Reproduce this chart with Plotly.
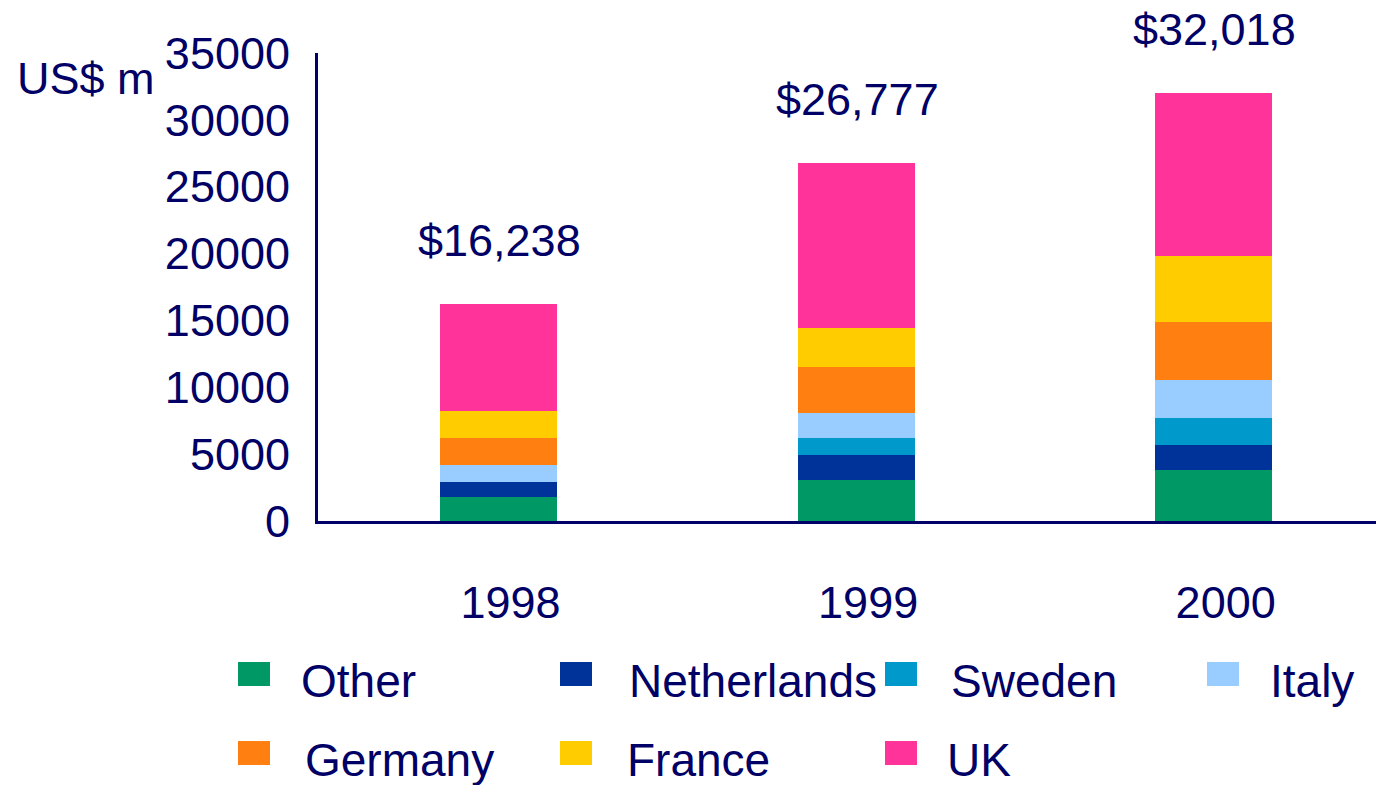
import plotly.graph_objects as go

years = ["1998", "1999", "2000"]
series_names = ["Other", "Netherlands", "Sweden", "Italy", "Germany", "France", "UK"]
other = [1830, 3100, 3780]
netherlands = [1120, 1870, 1870]
sweden = [0, 1270, 2090]
italy = [1220, 1820, 2770]
germany = [2070, 3490, 4340]
france = [2020, 2920, 4940]
uk = [7978, 12307, 12228]
totals = [16238, 26777, 32018]
total_labels = ["$16,238", "$26,777", "$32,018"]
y_ticks = [0, 5000, 10000, 15000, 20000, 25000, 30000, 35000]
y_tick_labels = ["0", "5000", "10000", "15000", "20000", "25000", "30000", "35000"]

colors = ["#009966", "#003399", "#0099CC", "#99CCFF", "#FF7F11", "#FFCC00", "#FF3399"]
values = [other, netherlands, sweden, italy, germany, france, uk]

NAVY = "#000066"
FONT = "Liberation Sans, Arial, sans-serif"
FS = 45
W, H = 1376, 785
L, T, B_PX = 318, 53, 521
R = 0
PW = W - L - R
PH = B_PX - T

fig = go.Figure()
for name, vals, col in zip(series_names, values, colors):
    fig.add_trace(go.Bar(x=years, y=vals, name=name, marker=dict(color=col, line=dict(width=0)),
                         width=0.327, showlegend=False))

annotations = []
for i, (tot, lab) in enumerate(zip(totals, total_labels)):
    annotations.append(dict(x=i, y=tot, xref="x", yref="y", text=lab, showarrow=False,
                            yanchor="middle", yshift=63, xshift=1,
                            font=dict(family=FONT, size=FS, color=NAVY)))

annotations.append(dict(x=(86 - L) / PW, y=(B_PX - 78) / PH, xref="paper", yref="paper",
                        text="US$ m", showarrow=False, xanchor="center", yanchor="middle",
                        font=dict(family=FONT, size=FS, color=NAVY)))

# manual legend (marker left x, marker centre y, text left x) in page pixels
legend_layout = [
    ("Other", 238, 674, 299), ("Netherlands", 560, 674, 627), ("Sweden", 885, 674, 949),
    ("Italy", 1207, 674, 1268),
    ("Germany", 238, 753, 303), ("France", 560, 753, 625), ("UK", 885, 753, 945),
]
shapes = []
cmap = dict(zip(series_names, colors))
for name, mx, my, tx in legend_layout:
    shapes.append(dict(type="rect", xref="paper", yref="paper",
                       x0=(mx - L) / PW, x1=(mx + 32 - L) / PW,
                       y0=(B_PX - (my + 12)) / PH, y1=(B_PX - (my - 12)) / PH,
                       fillcolor=cmap[name], line=dict(width=0)))
    annotations.append(dict(x=(tx - L) / PW, y=(B_PX - (my + 7)) / PH, xref="paper", yref="paper",
                            text=name, showarrow=False, xanchor="left", yanchor="middle",
                            font=dict(family=FONT, size=46, color=NAVY)))

fig.update_layout(
    width=W, height=H,
    barmode="stack",
    paper_bgcolor="white", plot_bgcolor="white",
    margin=dict(l=L, r=R, t=T, b=H - B_PX, pad=0),
    showlegend=False,
    annotations=annotations,
    shapes=shapes,
    font=dict(family=FONT, color=NAVY),
)
fig.update_xaxes(type="category", range=[-0.505, 2.454], showline=True, linecolor=NAVY, linewidth=3,
                 showgrid=False, zeroline=False, ticks="", ticklabelstandoff=40, ticklabelshift=12,
                 tickfont=dict(family=FONT, size=FS, color=NAVY))
fig.update_yaxes(range=[0, 35000], tickvals=y_ticks, ticktext=y_tick_labels, showline=True,
                 linecolor=NAVY, linewidth=3,
                 showgrid=False, zeroline=False, ticks="", ticklabelstandoff=16,
                 tickfont=dict(family=FONT, size=FS, color=NAVY))

fig.write_html("out.html", config={"displayModeBar": False})

with open("out.html", "r", encoding="utf-8") as f:
    html = f.read()
html = html.replace("<head>", "<head><style>html,body{margin:0;padding:0;overflow:hidden;}</style>", 1)
with open("out.html", "w", encoding="utf-8") as f:
    f.write(html)
